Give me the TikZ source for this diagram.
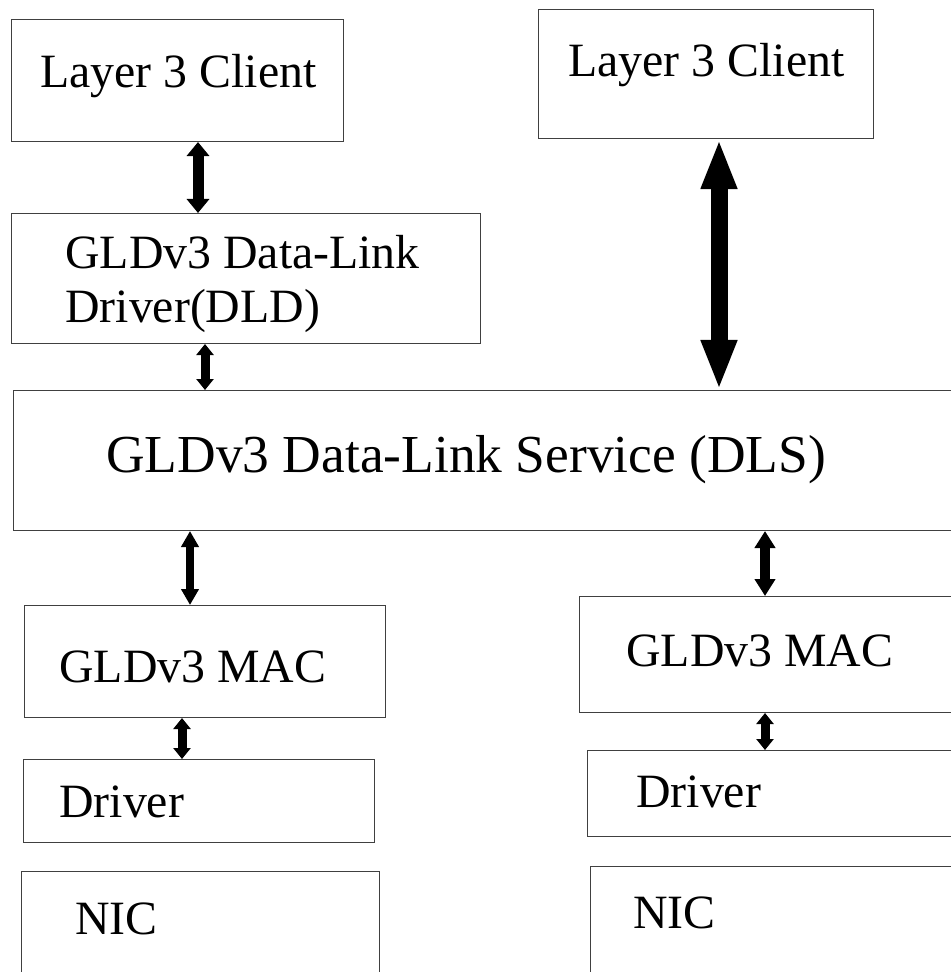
\documentclass[tikz,border=0pt]{standalone}
\usepackage{fontspec}
\setmainfont{Liberation Serif}
\usetikzlibrary{arrows.meta}
\tikzset{
  layer/.style 2 args={draw=black!75, line width=0.7pt, anchor=north west,
    inner sep=0pt, minimum width=#1, minimum height=#2},
  lbl/.style={anchor=base west, inner sep=0pt, font=\fontsize{34}{40}\selectfont},
  dbl/.style n args={3}{line width=#1, <->, >={Triangle[width=#2, length=#3]}}
}

\begin{document}
\begin{tikzpicture}[x=0.025cm, y=-0.025cm]
\clip (0,0) rectangle (951,972);
% upper clients and the link driver
\node[layer={8.3cm}{3.05cm}] (l3a) at (11,19) {};
\node[lbl] (l3atxt) at (40,88) {Layer 3 Client};
\node[layer={8.375cm}{3.225cm}] (l3b) at (538,9) {};
\node[lbl] (l3btxt) at (568,77) {Layer 3 Client};
\node[layer={11.725cm}{3.25cm}] (dld) at (11,213) {};
\node[lbl] (dldtxta) at (65,268) {GLDv3 Data-Link};
\node[lbl] (dldtxtb) at (65,322) {Driver(DLD)};
% the service
\node[layer={23.675cm}{3.5cm}] (dls) at (13,390) {};
\node[lbl, font=\fontsize{38}{44}\selectfont] (dlstxt) at (106,472) {GLDv3 Data-Link Service (DLS)};
% left stack
\node[layer={9.025cm}{2.8cm}] (maca) at (24,605) {};
\node[lbl] (macatxt) at (59,682) {GLDv3 MAC};
\node[layer={8.775cm}{2.075cm}] (drva) at (23,759) {};
\node[lbl] (drvatxt) at (59,817) {Driver};
\node[layer={8.95cm}{2.725cm}] (nica) at (21,871) {};
\node[lbl] (nicatxt) at (75,934) {NIC};
% right stack
\node[layer={9.525cm}{2.9cm}] (macb) at (579,596) {};
\node[lbl] (macbtxt) at (626,666) {GLDv3 MAC};
\node[layer={9.325cm}{2.15cm}] (drvb) at (587,750) {};
\node[lbl] (drvbtxt) at (636,807) {Driver};
\node[layer={9.25cm}{2.85cm}] (nicb) at (590,866) {};
\node[lbl] (nicbtxt) at (633,928) {NIC};
% links
\draw[dbl={0.275cm}{0.55cm}{0.35cm}] (198,0 |- l3a.south) -- (198,0 |- dld.north);
\draw[dbl={0.425cm}{0.825cm}{1.25cm}] (719,0 |- l3b.south) -- (719,0 |- dls.north);
\draw[dbl={0.225cm}{0.425cm}{0.275cm}] (205,0 |- dld.south) -- (205,0 |- dls.north);
\draw[dbl={0.2cm}{0.425cm}{0.4cm}] (190,0 |- dls.south) -- (190,0 |- maca.north);
\draw[dbl={0.25cm}{0.5cm}{0.425cm}] (765,0 |- dls.south) -- (765,0 |- macb.north);
\draw[dbl={0.225cm}{0.425cm}{0.275cm}] (182,0 |- maca.south) -- (182,0 |- drva.north);
\draw[dbl={0.225cm}{0.425cm}{0.275cm}] (765,0 |- macb.south) -- (765,0 |- drvb.north);
\end{tikzpicture}
\end{document}
